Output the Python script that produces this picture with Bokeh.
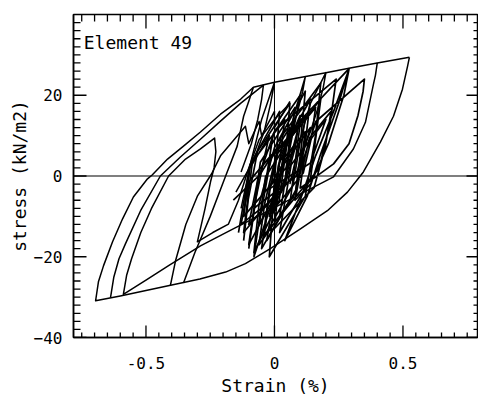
from math import pi
from bokeh.plotting import figure
from bokeh.models import FixedTicker, Span, Label, Range1d
from bokeh.embed import file_html
from bokeh.resources import INLINE

# ---- data (strain %, stress kN/m2) ----
outer_strain = [0.525, 0.518, 0.498, 0.463, 0.412, 0.346, 0.284, 0.206, 0.101, -0.016, -0.113, -0.19,
                -0.29, -0.45, -0.60, -0.696, -0.685, -0.665, -0.630, -0.591, -0.549, -0.494, -0.475,
                -0.416, -0.354, -0.288, -0.21, -0.132, -0.082, 0.0, 0.1, 0.2, 0.3, 0.4, 0.525]
outer_stress = [29.4, 27.2, 21.5, 14.8, 8.4, 1.0, -4.0, -8.6, -13.1, -18.0, -21.7, -23.8,
                -25.5, -27.7, -29.7, -30.9, -26.2, -22.2, -16.3, -10.6, -5.2, -0.7, 0.3,
                4.2, 7.4, 10.9, 15.3, 19.0, 22.0, 23.2, 24.4, 25.6, 26.8, 28.0, 29.4]

second_strain = [0.40, 0.393, 0.385, 0.354, 0.307, 0.23, 0.10, -0.05, -0.17, -0.288, -0.412, -0.50, -0.588,
                 -0.575, -0.556, -0.52, -0.479, -0.412, -0.346, -0.288, -0.233,
                 -0.228, -0.235, -0.249, -0.27, -0.30, -0.24, -0.179, -0.14, -0.10, -0.06, 0.0, 0.06]
second_stress = [28.0, 25.0, 22.7, 13.3, 6.7, -0.2, -4.5, -9.5, -13.4, -17.3, -22.2, -25.8, -29.3,
                 -24.5, -20.5, -14.0, -8.1, 0.0, 4.2, 6.7, 9.4,
                 6.0, 2.0, -1.5, -8.0, -16.3, -14.0, -11.9, -6.0, 2.0, 9.0, 14.0, 18.0]

arc_strain = [-0.638, -0.625, -0.605, -0.58, -0.521, -0.444, -0.366, -0.288, -0.21, -0.132, -0.043,
              -0.05, -0.065, -0.09, -0.13]
arc_stress = [-30.1, -25.0, -20.5, -16.8, -8.6, 0.0, 4.7, 9.1, 13.6, 18.0, 22.5,
              19.0, 14.0, 8.0, 1.0]

left_down_strain = [-0.082, -0.10, -0.12, -0.145, -0.19, -0.25, -0.31, -0.354]
left_down_stress = [22.0, 18.5, 14.8, 7.4, 0.0, -10.0, -19.0, -26.5]

left_up_strain = [-0.405, -0.385, -0.345, -0.30, -0.245, -0.21, -0.113, -0.10, -0.06, -0.05, 0.0, 0.0, 0.06]
left_up_stress = [-27.1, -21.0, -12.0, -5.0, 0.5, 5.0, 12.3, 8.0, 13.5, 10.0, 16.0, 12.0, 18.5]

spike1_strain = [-0.13, -0.09, -0.05, 0.0, -0.015, -0.04, -0.08, -0.15]
spike1_stress = [-8.0, 4.0, 14.0, 23.2, 18.0, 11.0, 4.0, -4.0]
spike2_strain = [0.0, 0.04, 0.08, 0.12, 0.11, 0.09, 0.06, 0.02]
spike2_stress = [-6.0, 6.0, 16.0, 24.6, 21.0, 16.0, 10.0, 4.0]
spike3_strain = [0.06, 0.10, 0.14, 0.2, 0.19, 0.17, 0.14, 0.10]
spike3_stress = [-2.0, 9.0, 18.0, 25.6, 22.0, 17.0, 11.0, 5.0]

core_strain = [-0.12, -0.102, -0.066, 0.06,
               0.046, 0.018, -0.08,
               -0.06, 0.0, 0.12,
               0.104, 0.072, -0.04,
               -0.018, 0.026, 0.18,
               0.16, 0.12, -0.02,
               -0.008, 0.016, 0.10,
               0.08, 0.04, -0.10,
               -0.066, 0.002, 0.24,
               0.218, 0.174, 0.02,
               0.047, 0.101, 0.29,
               0.25, 0.18, 0.128, 0.04,
               0.10, 0.16, 0.23, 0.29,
               0.27, 0.21, 0.14, 0.08,
               0.107, 0.161, 0.35,
               0.345, 0.325, 0.29, 0.23, 0.10,
               0.112, 0.136, 0.22,
               0.198, 0.154, 0.0,
               0.014, 0.042, 0.14,
               0.12, 0.08, -0.06,
               -0.038, 0.006, 0.16,
               0.144, 0.112, 0.0,
               0.012, 0.036, 0.12,
               0.11, 0.09, 0.02]
core_stress = [-16.0, -5.8, 6.1, 18.0,
               6.9, -6.1, -19.0,
               -7.0, 7.0, 21.0,
               10.2, -2.4, -15.0,
               -3.6, 9.7, 23.0,
               10.1, -5.0, -20.0,
               -9.5, 2.75, 15.0,
               6.9, -2.55, -12.0,
               -1.2, 11.4, 24.0,
               13.8, 1.9, -10.0,
               1.0, 13.8, 26.6,
               18.0, 5.5, -4.9, -16.0,
               -6.0, 5.0, 16.0, 26.4,
               20.0, 8.0, -2.0, -6.0,
               3.0, 13.5, 24.0,
               21.0, 15.0, 8.0, 3.0, -3.0,
               2.7, 9.4, 16.0,
               7.3, -2.9, -13.0,
               -3.4, 7.8, 19.0,
               8.2, -4.4, -17.0,
               -6.8, 5.1, 17.0,
               9.5, 0.75, -8.0,
               -2.3, 4.35, 11.0,
               6.5, 1.25, -4.0]

inner_strain = [-0.14, -0.095, 0.04, 0.005, -0.10, -0.055, 0.08, 0.045, -0.06, -0.015, 0.12,
                0.0825, -0.03, 0.0125, 0.14, 0.085, -0.08, -0.045, 0.06, 0.04, -0.02, 0.03, 0.18,
                0.14, 0.02, 0.065, 0.2, 0.14, -0.04, -0.005, 0.1, 0.045, -0.12, -0.095, -0.02,
                -0.055, -0.16]
inner_stress = [-14.0, 2.8, 14.0, -4.6, -17.0, 3.4, 17.0, -0.4, -12.0, 4.2, 15.0,
                -3.6, -16.0, 0.8, 12.0, 0.0, -8.0, 2.8, 10.0, -2.0, -10.0, 7.4, 19.0,
                -0.8, -14.0, 2.8, 14.0, 3.2, -4.0, 10.4, 20.0, 2.0, -10.0, 2.0, 10.0,
                0.4, -6.0]

dense_strain = [-0.10, -0.06, 0.06, 0.015, -0.12, -0.085, 0.02, -0.005, -0.08, -0.035, 0.10,
                0.0625, -0.05, -0.0175, 0.08, 0.0275, -0.13, -0.0975, 0.0]
dense_stress = [-18.0, 0.0, 12.0, -3.6, -14.0, 4.0, 16.0, -5.6, -20.0, -0.2, 13.0,
                -5.6, -18.0, -2.4, 8.0, -4.0, -12.0, -1.2, 6.0]

x_major = [-0.5, 0.0, 0.5]
x_minor = [-0.75, -0.7, -0.65, -0.6, -0.55, -0.45, -0.4, -0.35, -0.3, -0.25, -0.2, -0.15, -0.1, -0.05,
           0.05, 0.1, 0.15, 0.2, 0.25, 0.3, 0.35, 0.4, 0.45, 0.55, 0.6, 0.65, 0.7, 0.75]
y_major = [-40, -20, 0, 20]
y_minor = [-38, -36, -34, -32, -30, -28, -26, -24, -22, -18, -16, -14, -12, -10, -8, -6, -4, -2,
           2, 4, 6, 8, 10, 12, 14, 16, 18, 22, 24, 26, 28, 30, 32, 34, 36, 38]
x_labels = {-0.5: "-0.5", 0: "0", 0.5: "0.5"}

X0, X1, Y0, Y1 = -0.782, 0.79, -40, 40
FONT = "DejaVu Sans Mono"

p = figure(width=478, height=398, x_range=Range1d(X0, X1), y_range=Range1d(Y0, Y1),
           output_backend="svg", toolbar_location=None,
           min_border_left=73, min_border_right=1, min_border_top=14, min_border_bottom=61)
p.background_fill_color = "white"
p.border_fill_color = "white"
p.outline_line_color = "black"
p.outline_line_width = 1.5
p.xgrid.visible = False
p.ygrid.visible = False

xa = p.xaxis[0]
xa.ticker = FixedTicker(ticks=x_major, minor_ticks=x_minor)
xa.major_label_overrides = x_labels
xa.major_tick_line_color = None
xa.minor_tick_line_color = None
xa.major_tick_out = 0
xa.minor_tick_out = 0
xa.axis_line_width = 1.5
xa.major_label_standoff = 19
xa.major_label_text_font = FONT
xa.major_label_text_font_size = "16px"
xa.major_label_text_color = "black"
xa.axis_label = "Strain (%)"
xa.axis_label_standoff = 3
xa.axis_label_text_font = FONT
xa.axis_label_text_font_size = "18px"
xa.axis_label_text_font_style = "normal"
xa.axis_label_text_color = "black"

ya = p.yaxis[0]
ya.ticker = FixedTicker(ticks=y_major, minor_ticks=y_minor)
ya.major_tick_line_color = None
ya.minor_tick_line_color = None
ya.major_tick_out = 0
ya.minor_tick_out = 0
ya.axis_line_width = 1.5
ya.major_label_standoff = 11
ya.major_label_text_font = FONT
ya.major_label_text_font_size = "16px"
ya.major_label_text_color = "black"
ya.axis_label = "stress (kN/m2)"
ya.axis_label_standoff = 1
ya.axis_label_text_font = FONT
ya.axis_label_text_font_size = "18px"
ya.axis_label_text_font_style = "normal"
ya.axis_label_text_color = "black"

# inward tick marks on all four sides (screen-length rays from the frame edges)
tick = dict(line_color="black", line_width=1.3, length_units="screen")
p.ray(x=x_major, y=Y0, length=12, angle=pi / 2, **tick)
p.ray(x=x_minor, y=Y0, length=5, angle=pi / 2, **tick)
p.ray(x=x_major, y=Y1, length=14, angle=-pi / 2, **tick)
p.ray(x=x_minor, y=Y1, length=7, angle=-pi / 2, **tick)
p.ray(x=X0, y=y_major, length=13, angle=0, **tick)
p.ray(x=X0, y=y_minor, length=7, angle=0, **tick)
p.ray(x=X1, y=y_major, length=11, angle=pi, **tick)
p.ray(x=X1, y=y_minor, length=4, angle=pi, **tick)

p.add_layout(Span(location=0, dimension="height", line_color="black", line_width=1))
p.add_layout(Span(location=0, dimension="width", line_color="black", line_width=1.2))

outer_paths = [(outer_strain, outer_stress), (second_strain, second_stress), (arc_strain, arc_stress),
               (left_down_strain, left_down_stress), (left_up_strain, left_up_stress),
               (spike1_strain, spike1_stress), (spike2_strain, spike2_stress), (spike3_strain, spike3_stress)]
for xs, ys in outer_paths:
    p.line(xs, ys, line_color="black", line_width=1.5, line_join="round")
for xs, ys in [(core_strain, core_stress), (inner_strain, inner_stress), (dense_strain, dense_stress)]:
    p.line(xs, ys, line_color="black", line_width=1.7, line_join="round")

p.add_layout(Label(x=-0.742, y=33, text="Element 49", text_font=FONT, text_font_size="18px",
                   text_baseline="middle", text_color="black"))

open("out.html", "w").write(file_html(p, INLINE))
